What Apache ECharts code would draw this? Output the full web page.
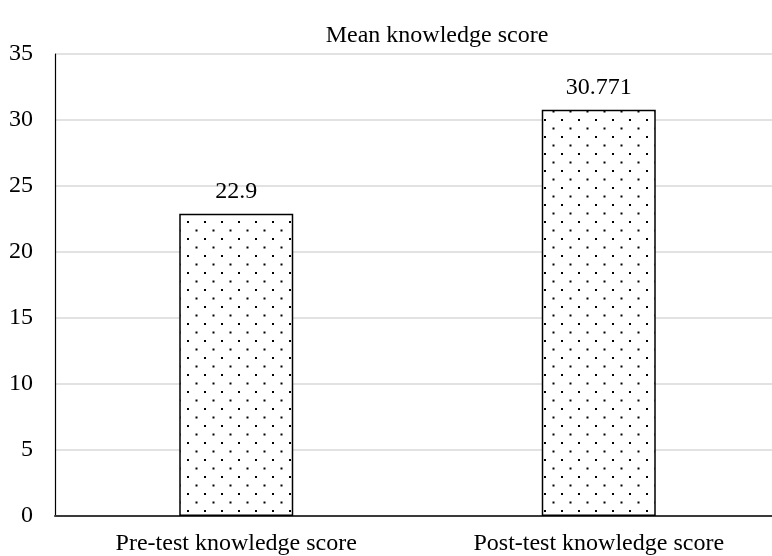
<!DOCTYPE html>
<html>
<head>
<meta charset="utf-8">
<script src="https://cdn.jsdelivr.net/npm/echarts@6/dist/echarts.min.js"></script>
<style>
  html, body { margin: 0; padding: 0; background: #fff; overflow: hidden; }
  /* the plot area runs slightly past the right edge of the window */
  #chart { width: 780px; height: 556px; }
</style>
</head>
<body>
<div id="chart"></div>
<script>
// Mean knowledge scores before and after the intervention
const categories = ['Pre-test knowledge score', 'Post-test knowledge score'];
const meanScores = [22.9, 30.771];
const yTicks = { min: 0, max: 35, interval: 5 };
const chartTitle = 'Mean knowledge score';

// Dotted fill: staggered grid of small black dots on white
function dotPattern() {
  const c = document.createElement('canvas');
  c.width = 17; c.height = 17;
  const ctx = c.getContext('2d');
  ctx.fillStyle = '#ffffff';
  ctx.fillRect(0, 0, 17, 17);
  ctx.fillStyle = '#000000';
  ctx.fillRect(0, 0, 2, 2);
  ctx.fillRect(8.5, 8.5, 2, 2);
  return c;
}

const serif = '"Liberation Serif", "Times New Roman", serif';
const chart = echarts.init(document.getElementById('chart'), null, { renderer: 'canvas' });

chart.setOption({
  animation: false,
  backgroundColor: '#ffffff',
  title: {
    text: chartTitle,
    left: 432,
    textAlign: 'center',
    top: 19,
    textStyle: { fontFamily: serif, fontSize: 24, fontWeight: 'normal', color: '#000' }
  },
  grid: { left: 55, top: 54, width: 725, height: 462, containLabel: false },
  xAxis: {
    type: 'category',
    data: categories,
    axisLine: { show: true, lineStyle: { color: '#3a3a3a', width: 2 } },
    axisTick: { show: false },
    axisLabel: { fontFamily: serif, fontSize: 24, color: '#000', margin: 16 }
  },
  yAxis: {
    type: 'value',
    min: yTicks.min,
    max: yTicks.max,
    interval: yTicks.interval,
    axisLine: { show: true, lineStyle: { color: '#000', width: 1.2 } },
    axisTick: { show: false },
    splitLine: { lineStyle: { color: '#d9d9d9', width: 1.5 } },
    axisLabel: { fontFamily: serif, fontSize: 24, color: '#000', margin: 22 }
  },
  series: [{
    type: 'bar',
    data: meanScores,
    barWidth: 114,
    itemStyle: {
      color: { image: dotPattern(), repeat: 'repeat' },
      borderColor: '#000',
      borderWidth: 1.5
    },
    label: {
      show: true,
      position: 'top',
      distance: 10,
      fontFamily: serif,
      fontSize: 24,
      color: '#000',
      formatter: p => String(p.value)
    }
  }]
});
</script>
</body>
</html>
